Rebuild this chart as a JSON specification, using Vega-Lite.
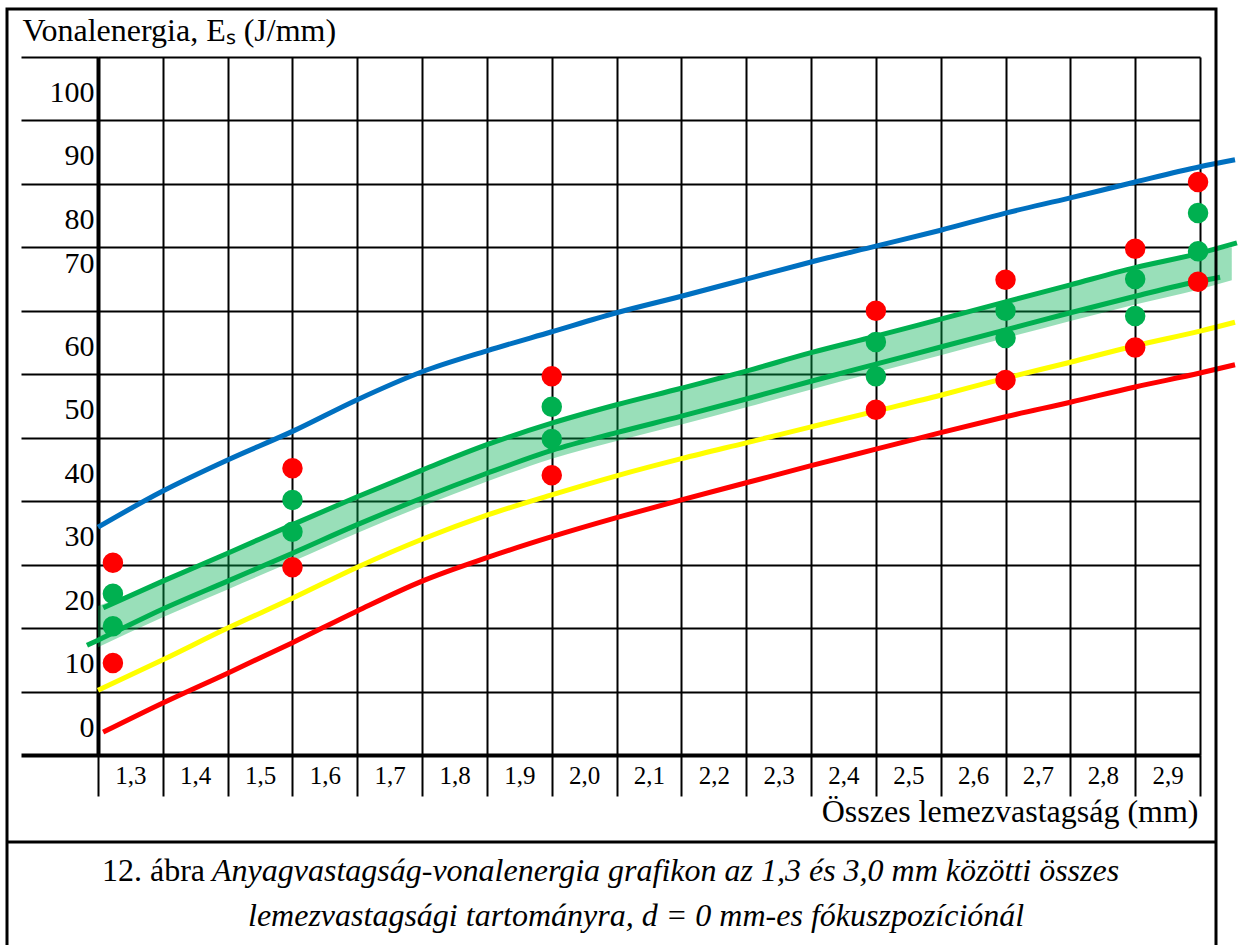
{
  "$schema": "https://vega.github.io/schema/vega-lite/v6.json",
  "width": 1102,
  "height": 698,
  "autosize": {"type": "none"},
  "padding": {"left": 98, "top": 57, "right": 38, "bottom": 190},
  "background": "white",
  "config": {"view": {"stroke": null}, "font": "Liberation Serif"},
  "datasets": {
    "vonalak": [
      {"sorozat": "kék", "x": 1.3, "y": 35.9}, {"sorozat": "kék", "x": 1.4, "y": 41.6}, {"sorozat": "kék", "x": 1.5, "y": 46.5},
      {"sorozat": "kék", "x": 1.6, "y": 51.0}, {"sorozat": "kék", "x": 1.7, "y": 56.0}, {"sorozat": "kék", "x": 1.8, "y": 60.4},
      {"sorozat": "kék", "x": 1.9, "y": 63.7}, {"sorozat": "kék", "x": 2.0, "y": 66.7}, {"sorozat": "kék", "x": 2.1, "y": 69.7},
      {"sorozat": "kék", "x": 2.2, "y": 72.3}, {"sorozat": "kék", "x": 2.3, "y": 75.0}, {"sorozat": "kék", "x": 2.4, "y": 77.7},
      {"sorozat": "kék", "x": 2.5, "y": 80.2}, {"sorozat": "kék", "x": 2.6, "y": 82.7}, {"sorozat": "kék", "x": 2.7, "y": 85.4},
      {"sorozat": "kék", "x": 2.8, "y": 87.8}, {"sorozat": "kék", "x": 2.9, "y": 90.3}, {"sorozat": "kék", "x": 3.0, "y": 92.7},
      {"sorozat": "kék", "x": 3.054, "y": 93.8},
      {"sorozat": "zöld felső", "x": 1.308, "y": 23.2}, {"sorozat": "zöld felső", "x": 1.4, "y": 27.4}, {"sorozat": "zöld felső", "x": 1.5, "y": 31.8},
      {"sorozat": "zöld felső", "x": 1.6, "y": 36.3}, {"sorozat": "zöld felső", "x": 1.7, "y": 40.7}, {"sorozat": "zöld felső", "x": 1.8, "y": 44.9},
      {"sorozat": "zöld felső", "x": 1.9, "y": 48.9}, {"sorozat": "zöld felső", "x": 2.0, "y": 52.3}, {"sorozat": "zöld felső", "x": 2.1, "y": 55.2},
      {"sorozat": "zöld felső", "x": 2.2, "y": 57.8}, {"sorozat": "zöld felső", "x": 2.3, "y": 60.5}, {"sorozat": "zöld felső", "x": 2.4, "y": 63.4},
      {"sorozat": "zöld felső", "x": 2.5, "y": 66.0}, {"sorozat": "zöld felső", "x": 2.6, "y": 68.7}, {"sorozat": "zöld felső", "x": 2.7, "y": 71.4},
      {"sorozat": "zöld felső", "x": 2.8, "y": 74.1}, {"sorozat": "zöld felső", "x": 2.9, "y": 76.8}, {"sorozat": "zöld felső", "x": 3.0, "y": 79.1},
      {"sorozat": "zöld felső", "x": 3.057, "y": 80.7},
      {"sorozat": "zöld alsó", "x": 1.283, "y": 17.3}, {"sorozat": "zöld alsó", "x": 1.3, "y": 18.1}, {"sorozat": "zöld alsó", "x": 1.4, "y": 23.0},
      {"sorozat": "zöld alsó", "x": 1.5, "y": 27.4}, {"sorozat": "zöld alsó", "x": 1.6, "y": 31.8}, {"sorozat": "zöld alsó", "x": 1.7, "y": 36.3},
      {"sorozat": "zöld alsó", "x": 1.8, "y": 40.5}, {"sorozat": "zöld alsó", "x": 1.9, "y": 44.4}, {"sorozat": "zöld alsó", "x": 2.0, "y": 48.0},
      {"sorozat": "zöld alsó", "x": 2.1, "y": 50.8}, {"sorozat": "zöld alsó", "x": 2.2, "y": 53.4}, {"sorozat": "zöld alsó", "x": 2.3, "y": 56.1},
      {"sorozat": "zöld alsó", "x": 2.4, "y": 58.9}, {"sorozat": "zöld alsó", "x": 2.5, "y": 61.6}, {"sorozat": "zöld alsó", "x": 2.6, "y": 64.3},
      {"sorozat": "zöld alsó", "x": 2.7, "y": 67.0}, {"sorozat": "zöld alsó", "x": 2.8, "y": 69.7}, {"sorozat": "zöld alsó", "x": 2.9, "y": 72.3},
      {"sorozat": "zöld alsó", "x": 3.0, "y": 74.7}, {"sorozat": "zöld alsó", "x": 3.031, "y": 75.3},
      {"sorozat": "sárga", "x": 1.3, "y": 10.2}, {"sorozat": "sárga", "x": 1.4, "y": 15.0}, {"sorozat": "sárga", "x": 1.5, "y": 20.0},
      {"sorozat": "sárga", "x": 1.6, "y": 24.7}, {"sorozat": "sárga", "x": 1.7, "y": 29.6}, {"sorozat": "sárga", "x": 1.8, "y": 34.0},
      {"sorozat": "sárga", "x": 1.9, "y": 37.8}, {"sorozat": "sárga", "x": 2.0, "y": 41.0}, {"sorozat": "sárga", "x": 2.1, "y": 44.0},
      {"sorozat": "sárga", "x": 2.2, "y": 46.7}, {"sorozat": "sárga", "x": 2.3, "y": 49.2}, {"sorozat": "sárga", "x": 2.4, "y": 51.7},
      {"sorozat": "sárga", "x": 2.5, "y": 54.2}, {"sorozat": "sárga", "x": 2.6, "y": 56.7}, {"sorozat": "sárga", "x": 2.7, "y": 59.4},
      {"sorozat": "sárga", "x": 2.8, "y": 61.9}, {"sorozat": "sárga", "x": 2.9, "y": 64.5}, {"sorozat": "sárga", "x": 3.0, "y": 66.8},
      {"sorozat": "sárga", "x": 3.054, "y": 68.2},
      {"sorozat": "piros", "x": 1.308, "y": 3.6}, {"sorozat": "piros", "x": 1.4, "y": 8.2}, {"sorozat": "piros", "x": 1.5, "y": 12.9},
      {"sorozat": "piros", "x": 1.6, "y": 17.7}, {"sorozat": "piros", "x": 1.7, "y": 22.7}, {"sorozat": "piros", "x": 1.8, "y": 27.4},
      {"sorozat": "piros", "x": 1.9, "y": 31.1}, {"sorozat": "piros", "x": 2.0, "y": 34.4}, {"sorozat": "piros", "x": 2.1, "y": 37.4},
      {"sorozat": "piros", "x": 2.2, "y": 40.2}, {"sorozat": "piros", "x": 2.3, "y": 42.9}, {"sorozat": "piros", "x": 2.4, "y": 45.6},
      {"sorozat": "piros", "x": 2.5, "y": 48.2}, {"sorozat": "piros", "x": 2.6, "y": 50.8}, {"sorozat": "piros", "x": 2.7, "y": 53.3},
      {"sorozat": "piros", "x": 2.8, "y": 55.6}, {"sorozat": "piros", "x": 2.9, "y": 58.0}, {"sorozat": "piros", "x": 3.0, "y": 60.2},
      {"sorozat": "piros", "x": 3.054, "y": 61.5}
    ],
    "sav": [
      {"x": 1.3, "felso": 23.5, "also": 17.0}, {"x": 1.4, "felso": 27.4, "also": 21.7}, {"x": 1.5, "felso": 31.8, "also": 26.1},
      {"x": 1.6, "felso": 36.3, "also": 30.5}, {"x": 1.7, "felso": 40.7, "also": 35.0}, {"x": 1.8, "felso": 44.9, "also": 39.2},
      {"x": 1.9, "felso": 48.9, "also": 43.1}, {"x": 2.0, "felso": 52.3, "also": 46.7}, {"x": 2.1, "felso": 55.2, "also": 49.5},
      {"x": 2.2, "felso": 57.8, "also": 52.1}, {"x": 2.3, "felso": 60.5, "also": 54.8}, {"x": 2.4, "felso": 63.4, "also": 57.6},
      {"x": 2.5, "felso": 66.0, "also": 60.3}, {"x": 2.6, "felso": 68.7, "also": 63.0}, {"x": 2.7, "felso": 71.4, "also": 65.7},
      {"x": 2.8, "felso": 74.1, "also": 68.4}, {"x": 2.9, "felso": 76.8, "also": 71.0}, {"x": 3.0, "felso": 79.1, "also": 73.4},
      {"x": 3.049, "felso": 80.0, "also": 74.8}
    ],
    "pontok": [
      {"x": 1.323, "y": 30.3, "jel": "piros"}, {"x": 1.323, "y": 25.4, "jel": "zöld"}, {"x": 1.323, "y": 20.3, "jel": "zöld"}, {"x": 1.323, "y": 14.5, "jel": "piros"},
      {"x": 1.6, "y": 45.2, "jel": "piros"}, {"x": 1.6, "y": 40.2, "jel": "zöld"}, {"x": 1.6, "y": 35.2, "jel": "zöld"}, {"x": 1.6, "y": 29.6, "jel": "piros"},
      {"x": 2.0, "y": 59.7, "jel": "piros"}, {"x": 2.0, "y": 54.9, "jel": "zöld"}, {"x": 2.0, "y": 49.8, "jel": "zöld"}, {"x": 2.0, "y": 44.1, "jel": "piros"},
      {"x": 2.5, "y": 70.0, "jel": "piros"}, {"x": 2.5, "y": 65.1, "jel": "zöld"}, {"x": 2.5, "y": 59.7, "jel": "zöld"}, {"x": 2.5, "y": 54.4, "jel": "piros"},
      {"x": 2.7, "y": 74.9, "jel": "piros"}, {"x": 2.7, "y": 70.0, "jel": "zöld"}, {"x": 2.7, "y": 65.7, "jel": "zöld"}, {"x": 2.7, "y": 59.1, "jel": "piros"},
      {"x": 2.9, "y": 79.8, "jel": "piros"}, {"x": 2.9, "y": 75.0, "jel": "zöld"}, {"x": 2.9, "y": 69.2, "jel": "zöld"}, {"x": 2.9, "y": 64.2, "jel": "piros"},
      {"x": 2.997, "y": 90.3, "jel": "piros"}, {"x": 2.997, "y": 85.4, "jel": "zöld"}, {"x": 2.997, "y": 79.4, "jel": "zöld"}, {"x": 2.997, "y": 74.6, "jel": "piros"}
    ]
  },
  "layer": [
    {
      "data": {"name": "sav"},
      "mark": {"type": "area", "fill": "#00B050", "fillOpacity": 0.4, "interpolate": "monotone"},
      "encoding": {
        "x": {
          "field": "x", "type": "quantitative",
          "scale": {"domain": [1.3, 3.0], "nice": false, "zero": false},
          "axis": {
            "values": [1.3, 1.4, 1.5, 1.6, 1.7, 1.8, 1.9, 2.0, 2.1, 2.2, 2.3, 2.4, 2.5, 2.6, 2.7, 2.8, 2.9, 3.0],
            "title": "Összes lemezvastagság (mm)",
            "titleFont": "Liberation Serif", "titleFontSize": 32, "titleFontWeight": "normal", "titleColor": "black",
            "titleAnchor": "end", "titleAlign": "right", "titleBaseline": "alphabetic", "titleX": 1100, "titleY": 66,
            "labelExpr": "datum.value > 2.95 ? '' : replace(format(datum.value, '.1f'), '.', ',')",
            "labelFont": "Liberation Serif", "labelFontSize": 25, "labelColor": "black",
            "labelOffset": 32.4, "labelPadding": -21, "labelBaseline": "middle", "labelAlign": "center",
            "labelFlush": false, "labelOverlap": false,
            "tickSize": 41, "tickWidth": 2, "tickColor": "black",
            "domainWidth": 4, "domainColor": "black",
            "grid": true, "gridColor": "black", "gridWidth": 2, "gridOpacity": 1
          }
        },
        "y": {
          "field": "felso", "type": "quantitative",
          "scale": {"domain": [0, 110], "nice": false, "zero": false},
          "axis": {
            "values": [0, 10, 20, 30, 40, 50, 60, 70, 80, 90, 100, 110],
            "title": "Vonalenergia, Eₛ (J/mm)",
            "titleAngle": 0, "titleX": -76, "titleY": -17, "titleAlign": "left", "titleBaseline": "alphabetic",
            "titleFont": "Liberation Serif", "titleFontSize": 32, "titleFontWeight": "normal", "titleColor": "black",
            "labelExpr": "datum.value >= 110 ? '' : datum.label",
            "labelFont": "Liberation Serif", "labelFontSize": 30, "labelColor": "black",
            "labelAlign": "right", "labelBaseline": "middle", "labelPadding": -73,
            "labelOffset": {"condition": {"test": "datum.value == 70", "value": -47}, "value": -28},
            "labelFlush": false, "labelOverlap": false,
            "tickSize": 77, "tickWidth": {"condition": {"test": "datum.value == 0", "value": 4}, "value": 2}, "tickColor": "black",
            "domainWidth": 4, "domainColor": "black",
            "grid": true, "gridColor": "black", "gridWidth": 2, "gridOpacity": 1
          }
        },
        "y2": {"field": "also"}
      }
    },
    {
      "data": {"name": "vonalak"},
      "mark": {"type": "line", "strokeWidth": 5, "interpolate": "monotone", "strokeCap": "butt"},
      "encoding": {
        "x": {"field": "x", "type": "quantitative"},
        "y": {"field": "y", "type": "quantitative"},
        "stroke": {
          "field": "sorozat", "type": "nominal", "legend": null,
          "scale": {"domain": ["kék", "zöld felső", "zöld alsó", "sárga", "piros"], "range": ["#0070C0", "#00B050", "#00B050", "#FFFF00", "#FF0000"]}
        }
      }
    },
    {
      "data": {"name": "pontok"},
      "mark": {"type": "circle", "size": 420, "opacity": 1},
      "encoding": {
        "x": {"field": "x", "type": "quantitative"},
        "y": {"field": "y", "type": "quantitative"},
        "fill": {
          "field": "jel", "type": "nominal", "legend": null,
          "scale": {"domain": ["piros", "zöld"], "range": ["#FF0000", "#00B050"]}
        }
      }
    },
    {
      "data": {"values": [{"keret": "ábra"}]},
      "mark": {"type": "rect", "fillOpacity": 0, "stroke": "black", "strokeWidth": 3},
      "encoding": {
        "x": {"datum": 1.15962, "type": "quantitative"},
        "x2": {"datum": 3.02468},
        "y": {"datum": 117.57, "type": "quantitative"},
        "y2": {"datum": -32}
      }
    },
    {
      "data": {"values": [{"keret": "elválasztó"}]},
      "mark": {"type": "rule", "stroke": "black", "strokeWidth": 3},
      "encoding": {
        "x": {"datum": 1.15962, "type": "quantitative"},
        "x2": {"datum": 3.02468},
        "y": {"datum": -13.71, "type": "quantitative"}
      }
    },
    {
      "data": {"values": [{"t": "12. ábra"}]},
      "mark": {"type": "text", "align": "left", "baseline": "alphabetic", "font": "Liberation Serif", "fontSize": 32, "color": "black"},
      "encoding": {
        "x": {"datum": 1.30617, "type": "quantitative"},
        "y": {"datum": -19.9, "type": "quantitative"},
        "text": {"field": "t"}
      }
    },
    {
      "data": {"values": [{"t": "Anyagvastagság-vonalenergia grafikon az 1,3 és 3,0 mm közötti összes"}]},
      "mark": {"type": "text", "align": "left", "baseline": "alphabetic", "font": "Liberation Serif", "fontSize": 32, "fontStyle": "italic", "color": "black"},
      "encoding": {
        "x": {"datum": 1.47586, "type": "quantitative"},
        "y": {"datum": -19.9, "type": "quantitative"},
        "text": {"field": "t"}
      }
    },
    {
      "data": {"values": [{"t": "lemezvastagsági tartományra, d = 0 mm-es fókuszpozíciónál"}]},
      "mark": {"type": "text", "align": "left", "baseline": "alphabetic", "font": "Liberation Serif", "fontSize": 32, "fontStyle": "italic", "color": "black"},
      "encoding": {
        "x": {"datum": 1.5314, "type": "quantitative"},
        "y": {"datum": -27.0, "type": "quantitative"},
        "text": {"field": "t"}
      }
    }
  ]
}
